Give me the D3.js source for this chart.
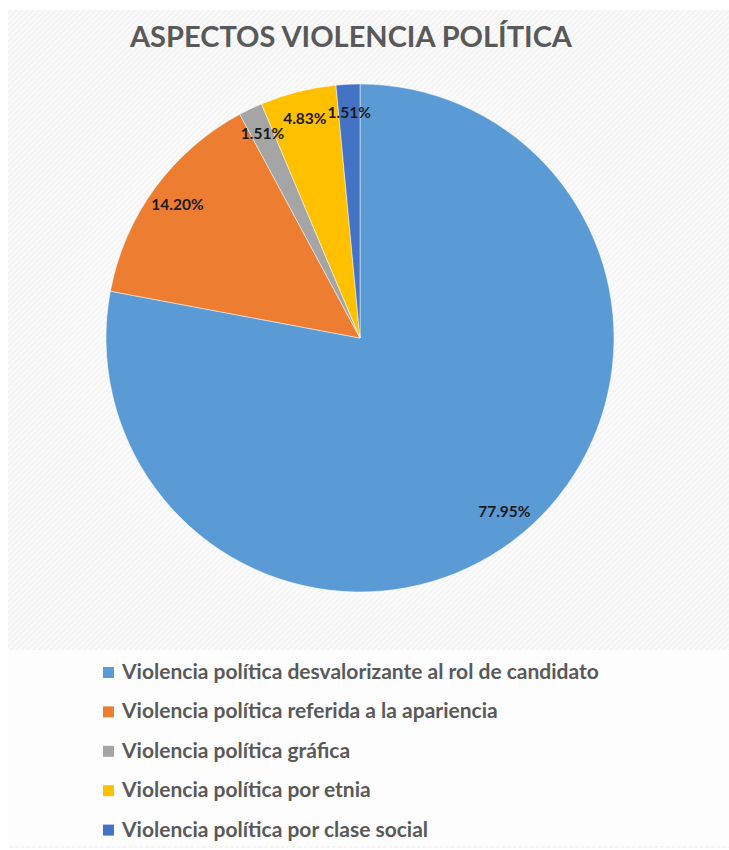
<!DOCTYPE html>
<html>
<head>
<meta charset="utf-8">
<script src="https://cdn.jsdelivr.net/npm/d3@7"></script>
<style>
  body { margin: 0; background: #fff; }
  svg text { font-family: Lato, "Open Sans", sans-serif; }
</style>
</head>
<body>
<div id="chart"></div>
<script>
// Chart data
var categories = [
    "Violencia política desvalorizante al rol de candidato",
    "Violencia política referida a la apariencia",
    "Violencia política gráfica",
    "Violencia política por etnia",
    "Violencia política por clase social"
];
var values = [77.95, 14.20, 1.51, 4.83, 1.51];
var colors = ["#5b9bd5", "#ed7d31", "#a5a5a5", "#ffc000", "#4472c4"];
var title = "ASPECTOS VIOLENCIA POLÍTICA";

var width = 729;
var height = 850;

var svg = d3.select("#chart").append("svg").attr("width", width).attr("height", height);

// Striped background like the office chart style
var defs = svg.append("defs");
var pattern = defs.append("pattern")
    .attr("id", "stripes")
    .attr("patternUnits", "userSpaceOnUse")
    .attr("width", 4).attr("height", 4)
    .attr("patternTransform", "rotate(45)");
pattern.append("rect").attr("width", 4).attr("height", 4).attr("fill", "#f3f3f3");
pattern.append("rect").attr("width", 2).attr("height", 4).attr("fill", "#fbfbfb");

var glow = defs.append("radialGradient").attr("id", "glow");
glow.append("stop").attr("offset", "0%").attr("stop-color", "#fff").attr("stop-opacity", 0.9);
glow.append("stop").attr("offset", "100%").attr("stop-color", "#fff").attr("stop-opacity", 0);

svg.append("rect").attr("x", 8).attr("y", 10).attr("width", width - 8).attr("height", 838)
    .attr("fill", "url(#stripes)");
svg.append("ellipse").attr("cx", 360).attr("cy", 340).attr("rx", 330).attr("ry", 300)
    .attr("fill", "url(#glow)");
// lighter legend area
svg.append("rect").attr("x", 8).attr("y", 650).attr("width", width - 8).attr("height", 196)
    .attr("fill", "#fdfdfd");

// Title
svg.append("text")
    .attr("x", 351).attr("y", 47)
    .attr("text-anchor", "middle")
    .style("font-size", "29px")
    .style("font-weight", "bold")
    .style("fill", "#595959")
    .text(title);

// Pie
var cx = 360, cy = 338, radius = 254;
var pie = d3.pie().sort(null).value(function(d) { return d; });
var arc = d3.arc().innerRadius(0).outerRadius(radius);
var labelArc = d3.arc().innerRadius(radius * 0.89).outerRadius(radius * 0.89);

var g = svg.append("g").attr("transform", "translate(" + cx + "," + cy + ")");
var arcs = pie(values);

g.selectAll("path")
    .data(arcs)
    .enter().append("path")
    .attr("d", arc)
    .attr("fill", function(d, i) { return colors[i]; })
    .attr("stroke", "#ffffff")
    .attr("stroke-width", 0.5);

g.selectAll("text.lbl")
    .data(arcs)
    .enter().append("text")
    .attr("class", "lbl")
    .attr("transform", function(d) { return "translate(" + labelArc.centroid(d) + ")"; })
    .attr("text-anchor", "middle")
    .attr("dy", "0.35em")
    .style("font-size", "15.5px")
    .style("font-weight", "bold")
    .style("fill", "#1a1a1a")
    .text(function(d) { return d.data.toFixed(2) + "%"; });

// Legend
var legend = svg.append("g").attr("transform", "translate(103,679)");
var rows = legend.selectAll("g")
    .data(categories)
    .enter().append("g")
    .attr("transform", function(d, i) { return "translate(0," + (i * 39.4) + ")"; });

rows.append("rect")
    .attr("x", 0).attr("y", -12)
    .attr("width", 11).attr("height", 11)
    .attr("fill", function(d, i) { return colors[i]; });

rows.append("text")
    .attr("x", 19).attr("y", 0)
    .style("font-size", "21px")
    .style("font-weight", "bold")
    .style("fill", "#595959")
    .text(function(d) { return d; });
</script>
</body>
</html>
